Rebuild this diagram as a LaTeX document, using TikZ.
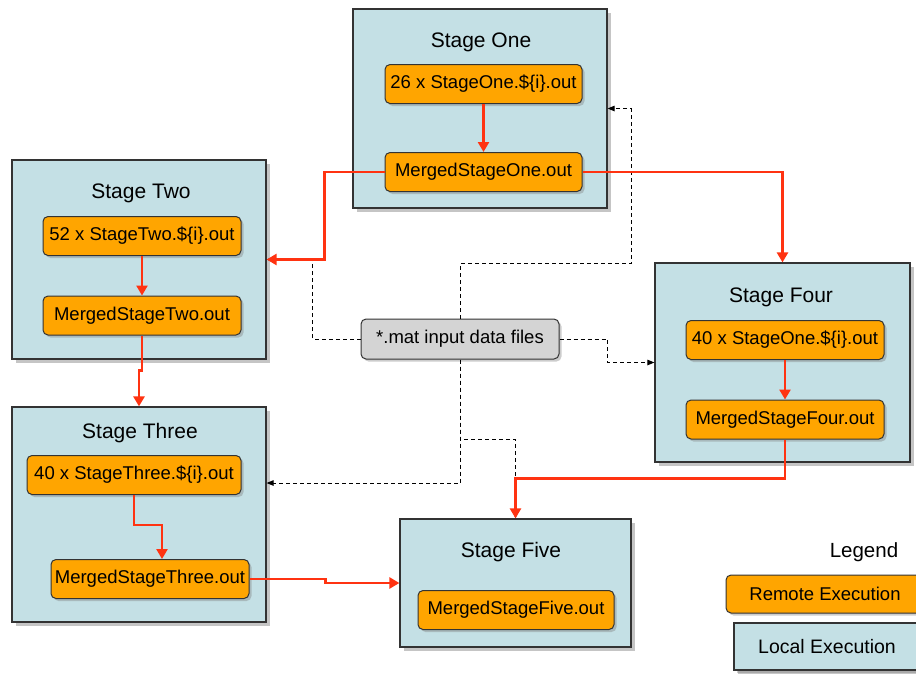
\documentclass[tikz,border=0pt]{standalone}
\usepackage{fontspec}
\setmainfont{Liberation Sans}
\usetikzlibrary{arrows.meta,shadows,calc}
\definecolor{stagebg}{HTML}{C4E0E5}
\definecolor{remote}{HTML}{FFA500}
\definecolor{flowred}{HTML}{FF3311}
\definecolor{inputgray}{HTML}{D4D4D4}
\begin{document}
\begin{tikzpicture}[x=1pt,y=-1pt,
 stagebox/.style={draw=black!80, line width=1.2pt, fill=stagebg, inner sep=0pt,
   drop shadow={shadow xshift=4pt,shadow yshift=-4pt,opacity=0.45}},
 filebox/.style={draw=black!80, line width=1pt, fill=remote, rounded corners=5pt, inner sep=0pt,
   minimum height=39pt, font=\fontsize{18.5}{20}\selectfont,
   drop shadow={shadow xshift=2.5pt,shadow yshift=-2.5pt,opacity=0.4}},
 inputbox/.style={filebox, fill=inputgray},
 stagetitle/.style={font=\fontsize{21}{23}\selectfont, inner sep=0pt},
 flow/.style={draw=flowred, line width=2.6pt, -{Triangle[width=11pt,length=10pt]}},
 feed/.style={draw=black, line width=1pt, dash pattern=on 4pt off 3pt, -{Triangle[width=5.5pt,length=7pt]}}
]
\useasboundingbox[fill=white] (0,0) rectangle (916,673);

% stage containers
\node[stagebox, minimum width=254pt, minimum height=199pt] (s1) at (480,108.5) {};
\node[stagebox, minimum width=254pt, minimum height=199pt] (s2) at (139,259.5) {};
\node[stagebox, minimum width=254pt, minimum height=215pt] (s3) at (139,514.5) {};
\node[stagebox, minimum width=255pt, minimum height=199pt] (s4) at (782.5,362.5) {};
\node[stagebox, minimum width=231pt, minimum height=128pt] (s5) at (515.5,583) {};

% titles
\node[stagetitle] (s1t) at (481,42) {Stage One};
\node[stagetitle] (s2t) at (141,193) {Stage Two};
\node[stagetitle] (s3t) at (140,433) {Stage Three};
\node[stagetitle] (s4t) at (781,297) {Stage Four};
\node[stagetitle] (s5t) at (511,552) {Stage Five};

% file boxes
\node[filebox, minimum width=197pt] (s1a) at (483.5,84) {26 x StageOne.\$\{i\}.out};
\node[filebox, minimum width=197pt] (s1b) at (483.5,172) {MergedStageOne.out};
\node[filebox, minimum width=198pt] (s2a) at (142,236) {52 x StageTwo.\$\{i\}.out};
\node[filebox, minimum width=198pt] (s2b) at (142,315.5) {MergedStageTwo.out};
\node[filebox, minimum width=214pt] (s3a) at (134,475) {40 x StageThree.\$\{i\}.out};
\node[filebox, minimum width=198pt] (s3b) at (150,579) {MergedStageThree.out};
\node[filebox, minimum width=198pt] (s4a) at (785,340) {40 x StageOne.\$\{i\}.out};
\node[filebox, minimum width=198pt] (s4b) at (785,419.5) {MergedStageFour.out};
\node[filebox, minimum width=196pt] (s5a) at (516,610) {MergedStageFive.out};

% input data
\node[inputbox, minimum width=198pt, minimum height=40pt] (inp) at (460,339) {*.mat input data files};

% legend
\node[font=\fontsize{20.5}{22}\selectfont, inner sep=0pt] (leg) at (864,552) {Legend};
\node[filebox, minimum width=198pt, minimum height=38pt] (rem) at (825,594) {Remote Execution};
\node[stagebox, minimum width=186pt, minimum height=47pt, font=\fontsize{19.5}{21}\selectfont,
  drop shadow={shadow xshift=2.5pt,shadow yshift=-2.5pt,opacity=0.4}] (loc) at (827,646.5) {Local Execution};

% dashed input feeds
\draw[feed] (inp.north) -- ++(0,-55) -- ++(171,0) |- (s1.east);
\draw[feed] (inp.west) -- ++(-48,0) |- (s2.east);
\draw[feed] (inp.east) -- ++(48,0) |- (s4.west);
\draw[feed] (inp.south) -- ++(0,80) -| (s5.north);
\draw[feed] (inp.south) |- ($(s3.east)+(0,-31.5)$);

% red execution flow
\draw[flow] (s1a.south) -- (s1b.north);
\draw[flow] (s1b.west) -- ++(-60,0) |- (s2.east);
\draw[flow] (s1b.east) -| (s4.north);
\draw[flow] (s2a.south) -- (s2b.north);
\draw[flow] (s2b.south) -- ++(0,35) -| (s3.north);
\draw[flow] (s3a.south) -- ++(0,30) -| ($(s3b.north)+(12,0)$);
\draw[flow] (s3b.east) -- ++(76,0) |- (s5.west);
\draw[flow] (s4a.south) -- (s4b.north);
\draw[flow] (s4b.south) -- ++(0,39) -| (s5.north);
\end{tikzpicture}
\end{document}
